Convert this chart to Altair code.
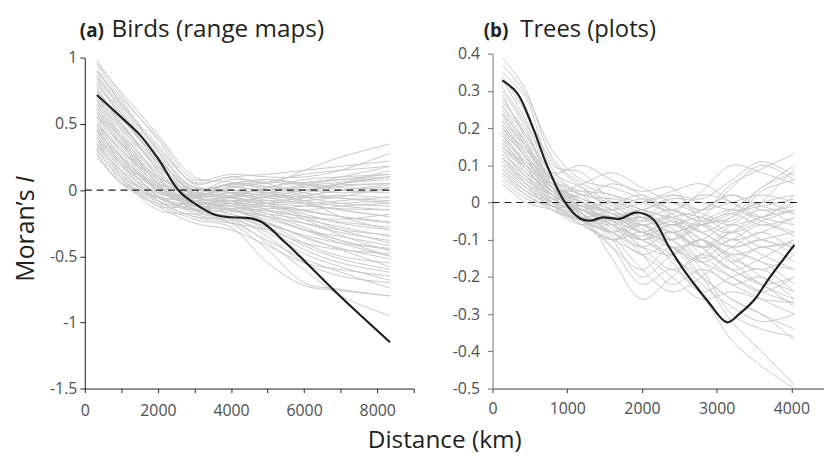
import altair as alt
import pandas as pd

FONT = "Open Sans"
INK = "#231f20"
GREY = "#c8c8c8"
LABEL = "#4f4f4f"

# ---------------- Panel (a) Birds (range maps) ----------------
birds_x = [330, 1000, 2000, 3000, 4000, 5000, 6000, 7000, 8350]
birds_grey = [
    [0.98, 0.72, 0.38, 0.05, 0.10, 0.05, 0.15, 0.25, 0.35],
    [0.95, 0.70, 0.40, 0.08, 0.12, 0.10, 0.10, 0.15, 0.28],
    [0.90, 0.65, 0.30, 0.02, 0.05, 0.08, 0.05, 0.10, 0.18],
    [0.88, 0.60, 0.25, -0.02, 0.00, -0.05, -0.02, 0.05, 0.15],
    [0.85, 0.62, 0.28, 0.00, -0.05, -0.10, -0.15, -0.20, -0.25],
    [0.82, 0.55, 0.22, -0.05, -0.08, -0.05, 0.00, 0.05, 0.10],
    [0.80, 0.58, 0.20, -0.08, -0.12, -0.20, -0.30, -0.40, -0.50],
    [0.78, 0.50, 0.18, -0.03, 0.02, 0.00, 0.02, 0.04, 0.05],
    [0.75, 0.52, 0.15, -0.10, -0.15, -0.25, -0.40, -0.50, -0.55],
    [0.72, 0.48, 0.12, -0.05, -0.02, -0.08, -0.10, -0.08, -0.05],
    [0.70, 0.45, 0.10, -0.12, -0.18, -0.30, -0.45, -0.55, -0.62],
    [0.68, 0.42, 0.08, -0.08, -0.10, -0.12, -0.15, -0.12, -0.10],
    [0.65, 0.40, 0.05, -0.15, -0.20, -0.35, -0.55, -0.65, -0.70],
    [0.62, 0.38, 0.02, -0.05, 0.05, 0.03, 0.00, -0.02, 0.00],
    [0.60, 0.35, 0.00, -0.10, -0.12, -0.18, -0.22, -0.28, -0.35],
    [0.58, 0.32, -0.02, -0.18, -0.25, -0.45, -0.70, -0.75, -0.80],
    [0.55, 0.30, 0.05, -0.08, -0.05, 0.02, 0.08, 0.10, 0.12],
    [0.52, 0.28, 0.00, -0.12, -0.15, -0.20, -0.30, -0.35, -0.42],
    [0.50, 0.25, -0.05, -0.15, -0.22, -0.40, -0.60, -0.80, -0.95],
    [0.48, 0.22, 0.02, -0.10, -0.08, -0.10, -0.05, 0.00, 0.02],
    [0.45, 0.20, -0.08, -0.20, -0.25, -0.30, -0.40, -0.45, -0.48],
    [0.42, 0.18, -0.05, -0.05, 0.00, -0.02, 0.00, 0.03, 0.05],
    [0.40, 0.15, -0.10, -0.22, -0.28, -0.55, -0.72, -0.76, -0.80],
    [0.38, 0.12, -0.12, -0.12, -0.15, -0.15, -0.20, -0.22, -0.18],
    [0.35, 0.10, -0.15, -0.18, -0.20, -0.25, -0.35, -0.45, -0.58],
    [0.32, 0.08, -0.05, -0.08, -0.05, -0.03, -0.05, -0.06, -0.08],
    [0.30, 0.10, -0.02, -0.10, -0.12, -0.10, -0.08, -0.05, 0.02],
    [0.28, 0.05, -0.12, -0.25, -0.30, -0.42, -0.55, -0.60, -0.65],
    [0.25, 0.05, -0.08, -0.15, -0.10, -0.05, 0.00, 0.05, 0.08],
    [0.55, 0.35, 0.10, -0.02, 0.05, 0.08, 0.05, 0.00, -0.02],
    [0.62, 0.40, 0.12, -0.06, -0.08, -0.15, -0.25, -0.32, -0.38],
    [0.45, 0.25, 0.00, -0.06, -0.10, -0.18, -0.28, -0.38, -0.45],
    [0.70, 0.50, 0.20, 0.00, 0.08, 0.05, -0.05, -0.10, -0.12],
    [0.40, 0.20, 0.05, -0.02, -0.04, -0.06, -0.10, -0.15, -0.20],
    [0.35, 0.15, -0.02, -0.08, -0.15, -0.22, -0.30, -0.38, -0.50],
    [0.90, 0.68, 0.30, 0.02, 0.03, -0.02, -0.08, -0.20, -0.30],
    [0.50, 0.30, 0.08, -0.04, 0.02, 0.06, 0.12, 0.15, 0.18],
    [0.60, 0.38, 0.08, -0.12, -0.10, -0.12, -0.18, -0.25, -0.30],
    [0.96, 0.74, 0.42, 0.10, 0.06, 0.00, -0.10, -0.15, -0.20],
    [0.92, 0.66, 0.34, 0.04, -0.02, -0.10, -0.20, -0.30, -0.40],
    [0.86, 0.64, 0.32, 0.06, 0.10, 0.12, 0.15, 0.18, 0.22],
    [0.84, 0.58, 0.26, -0.04, -0.10, -0.14, -0.12, -0.10, -0.08],
    [0.76, 0.54, 0.24, -0.02, -0.06, -0.12, -0.22, -0.34, -0.46],
    [0.74, 0.50, 0.16, -0.06, -0.04, 0.02, 0.06, 0.08, 0.10],
    [0.66, 0.46, 0.18, -0.04, -0.02, -0.04, -0.08, -0.12, -0.15],
    [0.64, 0.42, 0.14, -0.08, -0.14, -0.24, -0.36, -0.44, -0.52],
    [0.58, 0.36, 0.06, -0.10, -0.06, -0.02, 0.03, 0.06, 0.10],
    [0.56, 0.34, 0.04, -0.14, -0.20, -0.28, -0.42, -0.52, -0.60],
    [0.52, 0.30, 0.10, 0.00, 0.04, 0.06, 0.04, 0.02, 0.00],
    [0.48, 0.26, 0.00, -0.08, -0.12, -0.16, -0.20, -0.24, -0.28],
    [0.46, 0.24, 0.03, -0.12, -0.18, -0.26, -0.34, -0.40, -0.44],
    [0.44, 0.22, -0.02, -0.04, -0.06, -0.08, -0.06, -0.04, -0.06],
    [0.38, 0.18, 0.02, -0.06, -0.02, 0.00, 0.04, 0.08, 0.12],
    [0.36, 0.14, -0.06, -0.14, -0.16, -0.20, -0.25, -0.30, -0.34],
    [0.33, 0.12, -0.08, -0.20, -0.22, -0.32, -0.48, -0.58, -0.68],
    [0.31, 0.08, -0.10, -0.10, -0.08, -0.10, -0.12, -0.14, -0.15],
    [0.27, 0.06, -0.06, -0.12, -0.14, -0.12, -0.16, -0.20, -0.24],
    [0.42, 0.20, -0.04, -0.16, -0.24, -0.38, -0.52, -0.62, -0.74],
    [0.68, 0.48, 0.22, 0.02, -0.02, -0.06, -0.04, 0.00, 0.04],
    [0.80, 0.56, 0.24, 0.00, 0.04, 0.02, -0.02, -0.06, -0.10],
]
birds_black_x = [330, 1000, 1500, 2000, 2560, 3000, 3600, 4000, 4450, 4800, 5100,
                 5400, 5726, 6900, 8350]
birds_black_y = [0.72, 0.55, 0.42, 0.24, 0.0, -0.10, -0.19, -0.205, -0.21, -0.235, -0.295,
                 -0.375, -0.458, -0.78, -1.15]

# ---------------- Panel (b) Trees (plots) ----------------
trees_x = [130, 450, 800, 1200, 1600, 2000, 2400, 2800, 3200, 3600, 4040]
trees_grey = [
    [0.39, 0.30, 0.12, 0.05, 0.02, 0.00, -0.02, 0.03, 0.10, 0.08, 0.05],
    [0.35, 0.28, 0.10, 0.08, 0.00, -0.05, 0.02, -0.02, 0.05, 0.09, 0.13],
    [0.33, 0.22, 0.08, 0.10, 0.06, 0.03, 0.04, -0.05, -0.08, 0.00, 0.09],
    [0.30, 0.20, 0.05, 0.00, -0.04, -0.08, -0.05, -0.12, -0.18, -0.22, -0.28],
    [0.28, 0.18, 0.06, -0.02, -0.06, -0.10, -0.15, -0.20, -0.26, -0.30, -0.34],
    [0.26, 0.16, 0.04, 0.03, 0.02, -0.02, -0.04, -0.06, -0.03, 0.00, 0.02],
    [0.25, 0.15, 0.02, -0.05, -0.12, -0.18, -0.12, -0.20, -0.32, -0.40, -0.49],
    [0.24, 0.14, 0.07, 0.02, -0.03, -0.02, 0.01, 0.00, -0.02, -0.01, 0.01],
    [0.22, 0.13, 0.03, -0.03, -0.08, -0.12, -0.08, -0.15, -0.10, -0.14, -0.18],
    [0.21, 0.12, 0.01, -0.02, 0.00, -0.03, -0.06, -0.04, -0.08, -0.05, -0.02],
    [0.20, 0.12, 0.05, -0.04, -0.12, -0.22, -0.18, -0.25, -0.37, -0.44, -0.50],
    [0.19, 0.10, 0.00, -0.06, -0.10, -0.06, -0.10, -0.16, -0.22, -0.20, -0.26],
    [0.18, 0.11, 0.04, 0.01, -0.02, -0.05, -0.03, 0.02, 0.00, -0.04, -0.06],
    [0.17, 0.09, 0.02, -0.01, -0.05, -0.08, -0.12, -0.10, -0.06, -0.10, -0.12],
    [0.16, 0.10, 0.03, -0.03, -0.15, -0.26, -0.20, -0.14, -0.18, -0.22, -0.20],
    [0.15, 0.08, 0.00, -0.04, -0.06, -0.04, -0.08, -0.05, -0.02, -0.05, -0.08],
    [0.14, 0.07, 0.01, 0.02, -0.01, -0.04, -0.02, -0.06, -0.10, -0.08, -0.04],
    [0.13, 0.07, -0.01, -0.06, -0.10, -0.14, -0.20, -0.26, -0.24, -0.26, -0.27],
    [0.12, 0.06, 0.00, -0.02, -0.04, -0.02, 0.00, -0.02, 0.00, 0.02, 0.00],
    [0.12, 0.05, -0.02, -0.05, -0.08, -0.12, -0.14, -0.10, -0.15, -0.18, -0.14],
    [0.11, 0.06, 0.02, -0.01, -0.03, -0.08, -0.05, -0.08, -0.12, -0.10, -0.08],
    [0.10, 0.04, -0.01, -0.04, -0.02, 0.01, -0.02, -0.05, -0.03, -0.06, -0.04],
    [0.09, 0.04, 0.00, -0.03, -0.09, -0.18, -0.24, -0.20, -0.14, -0.16, -0.22],
    [0.08, 0.02, -0.02, -0.06, -0.04, -0.08, -0.10, -0.06, -0.04, 0.04, 0.08],
    [0.07, 0.02, -0.01, -0.02, -0.06, -0.10, -0.06, -0.12, -0.18, -0.15, -0.10],
    [0.05, 0.00, -0.02, -0.05, -0.10, -0.08, -0.12, -0.20, -0.26, -0.30, -0.37],
    [0.15, 0.10, 0.05, 0.00, -0.03, -0.06, -0.10, -0.18, -0.30, -0.34, -0.36],
    [0.20, 0.14, 0.06, 0.02, 0.01, 0.00, 0.02, 0.01, 0.06, 0.11, 0.07],
    [0.23, 0.15, 0.04, -0.02, -0.04, -0.07, -0.12, -0.16, -0.20, -0.24, -0.27],
    [0.18, 0.10, 0.03, -0.01, -0.04, -0.02, -0.05, -0.10, -0.14, -0.12, -0.11],
    [0.27, 0.19, 0.05, 0.01, -0.03, -0.06, -0.04, -0.02, 0.02, -0.01, -0.03],
    [0.14, 0.09, 0.02, -0.02, -0.07, -0.10, -0.08, -0.12, -0.08, -0.04, 0.00],
    [0.37, 0.29, 0.14, 0.06, 0.04, 0.01, -0.03, -0.08, -0.12, -0.10, -0.14],
    [0.34, 0.24, 0.11, 0.04, -0.02, -0.06, -0.10, -0.06, -0.02, 0.04, 0.10],
    [0.31, 0.21, 0.09, 0.02, 0.05, 0.02, -0.04, -0.10, -0.14, -0.20, -0.24],
    [0.29, 0.17, 0.04, -0.04, -0.08, -0.04, -0.08, -0.12, -0.06, -0.02, -0.06],
    [0.26, 0.18, 0.08, 0.04, 0.00, -0.04, -0.08, -0.04, 0.04, 0.10, 0.06],
    [0.24, 0.16, 0.06, 0.00, -0.06, -0.14, -0.22, -0.18, -0.22, -0.26, -0.30],
    [0.22, 0.15, 0.06, 0.03, 0.00, 0.02, -0.02, -0.04, -0.06, -0.04, -0.02],
    [0.21, 0.13, 0.04, -0.01, -0.05, -0.10, -0.14, -0.22, -0.28, -0.32, -0.30],
    [0.19, 0.12, 0.03, -0.02, -0.06, -0.09, -0.06, -0.10, -0.16, -0.12, -0.16],
    [0.17, 0.11, 0.04, 0.00, -0.02, 0.00, 0.03, 0.05, 0.00, -0.04, 0.02],
    [0.16, 0.09, 0.01, -0.03, -0.08, -0.14, -0.10, -0.06, -0.12, -0.16, -0.18],
    [0.15, 0.09, 0.02, -0.02, -0.04, -0.08, -0.16, -0.24, -0.20, -0.18, -0.24],
    [0.13, 0.08, 0.03, 0.00, -0.03, -0.06, -0.04, -0.08, -0.04, 0.00, -0.03],
    [0.12, 0.07, 0.02, -0.03, -0.10, -0.20, -0.14, -0.10, -0.16, -0.22, -0.26],
    [0.11, 0.05, 0.00, -0.02, -0.05, -0.04, -0.07, -0.12, -0.10, -0.06, -0.09],
    [0.10, 0.05, 0.01, -0.01, 0.00, -0.02, -0.06, -0.02, 0.02, -0.02, -0.01],
    [0.09, 0.03, -0.01, -0.05, -0.08, -0.06, -0.12, -0.16, -0.12, -0.08, -0.13],
    [0.08, 0.03, 0.00, -0.02, -0.05, -0.10, -0.08, -0.14, -0.20, -0.24, -0.20],
    [0.06, 0.01, -0.01, -0.04, -0.06, -0.12, -0.18, -0.14, -0.08, -0.12, -0.10],
    [0.20, 0.12, 0.03, 0.05, 0.08, 0.04, 0.00, -0.03, -0.05, 0.03, 0.06],
]
trees_black_x = [130, 330, 550, 730, 970, 1170, 1300, 1480, 1700, 1920, 2140, 2360,
                 2590, 2800, 2900, 3140, 3300, 3510, 3690, 4040]
trees_black_y = [0.328, 0.294, 0.196, 0.099, 0.0, -0.043, -0.049, -0.04, -0.044, -0.027,
                 -0.043, -0.119, -0.19, -0.245, -0.27, -0.322, -0.30, -0.26, -0.207, -0.114]

# ---------------- tables ----------------
def grey_table(xs, rows):
    recs = []
    for i, row in enumerate(rows):
        for x, y in zip(xs, row):
            recs.append({"id": i, "x": x, "y": y})
    return pd.DataFrame(recs)


birds_grey_df = grey_table(birds_x, birds_grey)
birds_black_df = pd.DataFrame({"x": birds_black_x, "y": birds_black_y})
birds_zero_df = pd.DataFrame({"x": [0], "x2": [8350], "y": [0]})

trees_grey_df = grey_table(trees_x, trees_grey)
trees_black_df = pd.DataFrame({"x": trees_black_x, "y": trees_black_y})
trees_zero_df = pd.DataFrame({"x": [0], "x2": [4080], "y": [0]})


def text(s, x, y, size, weight="normal", style="normal", angle=0, align="left"):
    return alt.Chart(pd.DataFrame({"t": [s]})).mark_text(
        align=align, baseline="alphabetic", font=FONT, fontSize=size,
        fontWeight=weight, fontStyle=style, angle=angle, color=INK,
    ).encode(x=alt.value(x), y=alt.value(y), text="t:N")


def panel(grey_df, black_df, zero_df, x_enc, y_enc, w, h, extras):
    grey = alt.Chart(grey_df).mark_line(
        color=GREY, strokeWidth=1, interpolate="catmull-rom"
    ).encode(x=x_enc, y=y_enc, detail="id:N")
    zero = alt.Chart(zero_df).mark_rule(
        color=INK, strokeWidth=1.1, strokeDash=[7, 5]
    ).encode(x=x_enc, x2="x2:Q", y=y_enc)
    black = alt.Chart(black_df).mark_line(
        color=INK, strokeWidth=2.2, interpolate="catmull-rom"
    ).encode(x=x_enc, y=y_enc)
    return alt.layer(grey, zero, black, *extras).properties(width=w, height=h)


common = dict(grid=False, title=None, labelFont=FONT, labelFontSize=16,
              labelColor=LABEL, labelOverlap=False, labelFlush=False,
              domainWidth=1, tickWidth=1)

xa = alt.X("x:Q", scale=alt.Scale(domain=[0, 9000], nice=False, zero=False),
           axis=alt.Axis(values=list(range(0, 9001, 1000)),
                         labelExpr="datum.value % 2000 == 0 ? '' + datum.value : ''",
                         domainColor=INK, tickColor=INK, tickSize=4, labelPadding=10,
                         **common))
ya = alt.Y("y:Q", scale=alt.Scale(domain=[-1.5, 1], nice=False, zero=False, range=[338, 4.3]),
           axis=alt.Axis(values=[-1.5, -1, -0.5, 0, 0.5, 1],
                         labelExpr="datum.value % 1 == 0 ? datum.value + '\u2005' : '' + datum.value",
                         domainColor=INK, tickColor=INK, tickSize=5, labelPadding=3,
                         **common))

xb = alt.X("x:Q", scale=alt.Scale(domain=[0, 4430], nice=False, zero=False),
           axis=alt.Axis(values=[0, 1000, 2000, 3000, 4000],
                         labelExpr="'' + datum.value",
                         domainColor="#3a3a3a", tickColor="#3a3a3a", tickSize=4,
                         labelPadding=8, **common))
yb = alt.Y("y:Q", scale=alt.Scale(domain=[-0.5, 0.4], nice=False, zero=False),
           axis=alt.Axis(values=[-0.5, -0.4, -0.3, -0.2, -0.1, 0, 0.1, 0.2, 0.3, 0.4],
                         labelExpr="'' + datum.value",
                         domainColor="#6e6e6e", tickColor="#6e6e6e", tickSize=5,
                         labelPadding=8, **common))

extras_a = [
    text("(a)", -5, -17, 19, weight="bold"),
    text("Birds (range maps)", 27, -17, 24.5),
    text("Moran\u2019s", -51, 137, 25, angle=270, align="right"),
    text("I", -51, 130.5, 25, style="italic", angle=270, align="left"),
]
extras_b = [
    text("(b)", -9, -17, 19, weight="bold"),
    text("Trees (plots)", 28, -17, 24),
]

pa = panel(birds_grey_df, birds_black_df, birds_zero_df, xa, ya, 332, 338, extras_a)
pb = panel(trees_grey_df, trees_black_df, trees_zero_df, xb, yb, 334, 338, extras_b)

chart = alt.hconcat(pa, pb, spacing=37.5).properties(
    title=alt.TitleParams(
        text="Distance (km)", orient="bottom", anchor="middle", fontSize=24.6,
        font=FONT, fontWeight="normal", color=INK, dx=26, offset=11,
    ),
    padding={"left": 6.5, "top": 7, "right": 0, "bottom": 0},
).configure_view(stroke=None)

chart.save("out.html", embed_options={"renderer": "svg", "actions": False})
